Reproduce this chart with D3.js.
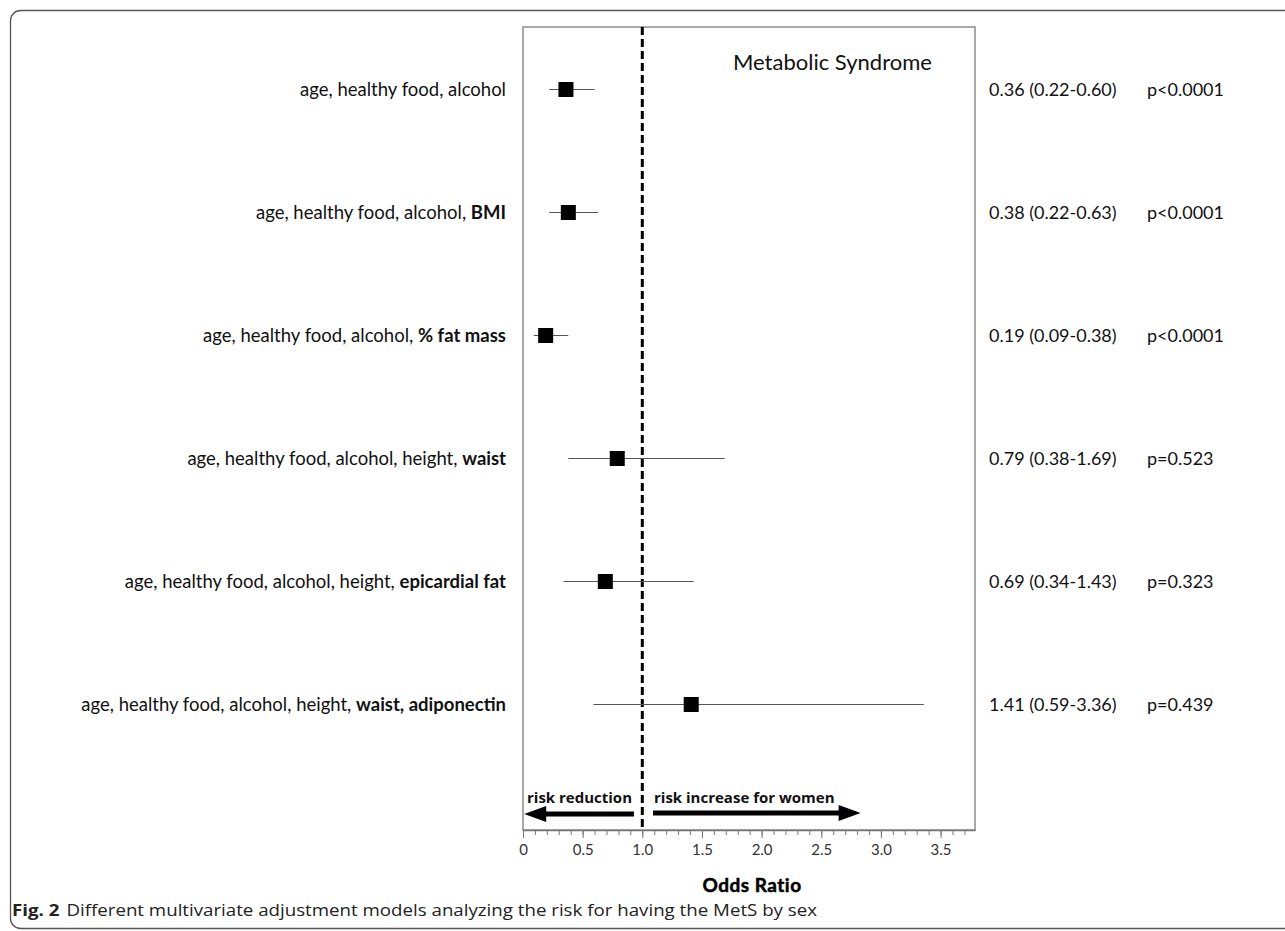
<!DOCTYPE html>
<html><head><meta charset="utf-8">
<script src="https://cdn.jsdelivr.net/npm/d3@7"></script>
<style>body{margin:0;background:#fff}</style>
</head><body>
<svg id="c" width="1285" height="931"></svg>
<script>
const labelPlain = ["age, healthy food, alcohol ", "age, healthy food, alcohol, ", "age, healthy food, alcohol, ", "age, healthy food, alcohol, height, ", "age, healthy food, alcohol, height, ", "age, healthy food, alcohol, height, "];
const labelBold = ["", "BMI", "% fat mass", "waist", "epicardial fat", "waist, adiponectin"];
const oddsRatio = [0.36, 0.38, 0.19, 0.79, 0.69, 1.41];
const ciLow = [0.22, 0.22, 0.09, 0.38, 0.34, 0.59];
const ciHigh = [0.60, 0.63, 0.38, 1.69, 1.43, 3.36];
const pText = ["p<0.0001", "p<0.0001", "p<0.0001", "p=0.523", "p=0.323", "p=0.439"];
const majorTicks = [0, 0.5, 1.0, 1.5, 2.0, 2.5, 3.0, 3.5];
const majorTickLabels = ["0", "0.5", "1.0", "1.5", "2.0", "2.5", "3.0", "3.5"];

const svg = d3.select("#c");
const boxL = 523, boxR = 975, boxT = 27, boxB = 830;
const x = d3.scaleLinear().domain([0, 3.79]).range([boxL, boxL + 3.79 * 119.3]);
const y = d3.scaleBand().domain(d3.range(6)).range([28, 766]);

// outer frame
svg.append("rect").attr("x", 10.5).attr("y", 10.5).attr("width", 1400).attr("height", 918)
  .attr("rx", 10).attr("fill", "none").attr("stroke", "#555").attr("stroke-width", 1.3);

// plot box
svg.append("rect").attr("x", boxL).attr("y", boxT).attr("width", boxR - boxL).attr("height", boxB - boxT)
  .attr("fill", "none").attr("stroke", "#8c8c8c").attr("stroke-width", 1.5);

// axis
const minor = d3.range(0, 38).map(d => d / 10);
svg.append("g").attr("transform", `translate(0,${boxB})`)
  .call(d3.axisBottom(x).tickValues(minor).tickSize(5).tickFormat("").tickSizeOuter(0))
  .call(g => g.select(".domain").attr("stroke", "#777").attr("stroke-width", 1.3))
  .call(g => g.selectAll(".tick line").attr("stroke", "#777"));
svg.append("g").attr("transform", `translate(0,${boxB})`)
  .call(d3.axisBottom(x).tickValues(majorTicks).tickSize(8).tickPadding(6)
    .tickFormat((d, i) => majorTickLabels[i]).tickSizeOuter(0))
  .call(g => g.select(".domain").remove())
  .call(g => g.selectAll(".tick line").attr("stroke", "#777"))
  .call(g => g.selectAll(".tick text").attr("font-family", "Lato").attr("font-size", 15).attr("fill", "#333"));

// reference dashed line at OR = 1
svg.append("line").attr("x1", x(1)).attr("x2", x(1)).attr("y1", boxT).attr("y2", boxB)
  .attr("stroke", "#000").attr("stroke-width", 3).attr("stroke-dasharray", "8,4");

// title
svg.append("text").attr("x", 733).attr("y", 70).attr("font-family", "Lato").attr("font-size", 22)
  .attr("fill", "#111").text("Metabolic Syndrome");

const rows = svg.append("g").selectAll("g").data(d3.range(6)).join("g")
  .attr("transform", i => `translate(0,${y(i) + y.bandwidth() / 2})`);

rows.append("line").attr("x1", i => x(ciLow[i])).attr("x2", i => x(ciHigh[i]))
  .attr("stroke", "#555").attr("stroke-width", 1.2);
rows.append("rect").attr("x", i => x(oddsRatio[i]) - 7.5).attr("y", -7.5)
  .attr("width", 15).attr("height", 15).attr("fill", "#000");

const lab = rows.append("text").attr("x", 506).attr("y", 6).attr("text-anchor", "end")
  .attr("font-family", "Lato").attr("font-size", 18.5).attr("fill", "#111");
lab.append("tspan").text(i => labelPlain[i]);
lab.append("tspan").attr("font-weight", "bold").text(i => labelBold[i]);

rows.append("text").attr("x", 989).attr("y", 6).attr("font-family", "Lato").attr("font-size", 18)
  .attr("fill", "#111")
  .text(i => `${oddsRatio[i].toFixed(2)} (${ciLow[i].toFixed(2)}-${ciHigh[i].toFixed(2)})`);
rows.append("text").attr("x", 1147).attr("y", 6).attr("font-family", "Lato").attr("font-size", 18)
  .attr("fill", "#111").text(i => pText[i]);

// arrows
function arrow(x1, x2, yy) {
  const dir = Math.sign(x2 - x1);
  svg.append("line").attr("x1", x1).attr("x2", x2 - dir * 18).attr("y1", yy).attr("y2", yy)
    .attr("stroke", "#000").attr("stroke-width", 5);
  svg.append("path").attr("d", `M${x2},${yy} L${x2 - dir * 22},${yy - 8} L${x2 - dir * 22},${yy + 8} Z`).attr("fill", "#000");
}
arrow(x(0.93), x(0.01), 814);
arrow(x(1.09), x(2.83), 813);
svg.append("text").attr("x", 527).attr("y", 803).attr("font-family", "Open Sans").attr("font-weight", "bold")
  .attr("font-size", 15).attr("fill", "#111").text("risk reduction");
svg.append("text").attr("x", 654).attr("y", 803).attr("font-family", "Open Sans").attr("font-weight", "bold")
  .attr("font-size", 15).attr("fill", "#111").text("risk increase for women");

// x title
svg.append("text").attr("x", 752).attr("y", 892).attr("text-anchor", "middle").attr("font-family", "Lato")
  .attr("font-weight", "bold").attr("font-size", 19).attr("letter-spacing", 0.5).attr("fill", "#000")
  .attr("stroke", "#000").attr("stroke-width", 0.5).text("Odds Ratio");

// caption
const cap = svg.append("text").attr("x", 12).attr("y", 916).attr("font-family", "Open Sans").attr("font-size", 16)
  .attr("fill", "#222").attr("textLength", 805).attr("lengthAdjust", "spacingAndGlyphs");
cap.append("tspan").attr("font-weight", "bold").text("Fig. 2");
cap.append("tspan").attr("dx", 6).text("Different multivariate adjustment models analyzing the risk for having the MetS by sex");
</script>
</body></html>
